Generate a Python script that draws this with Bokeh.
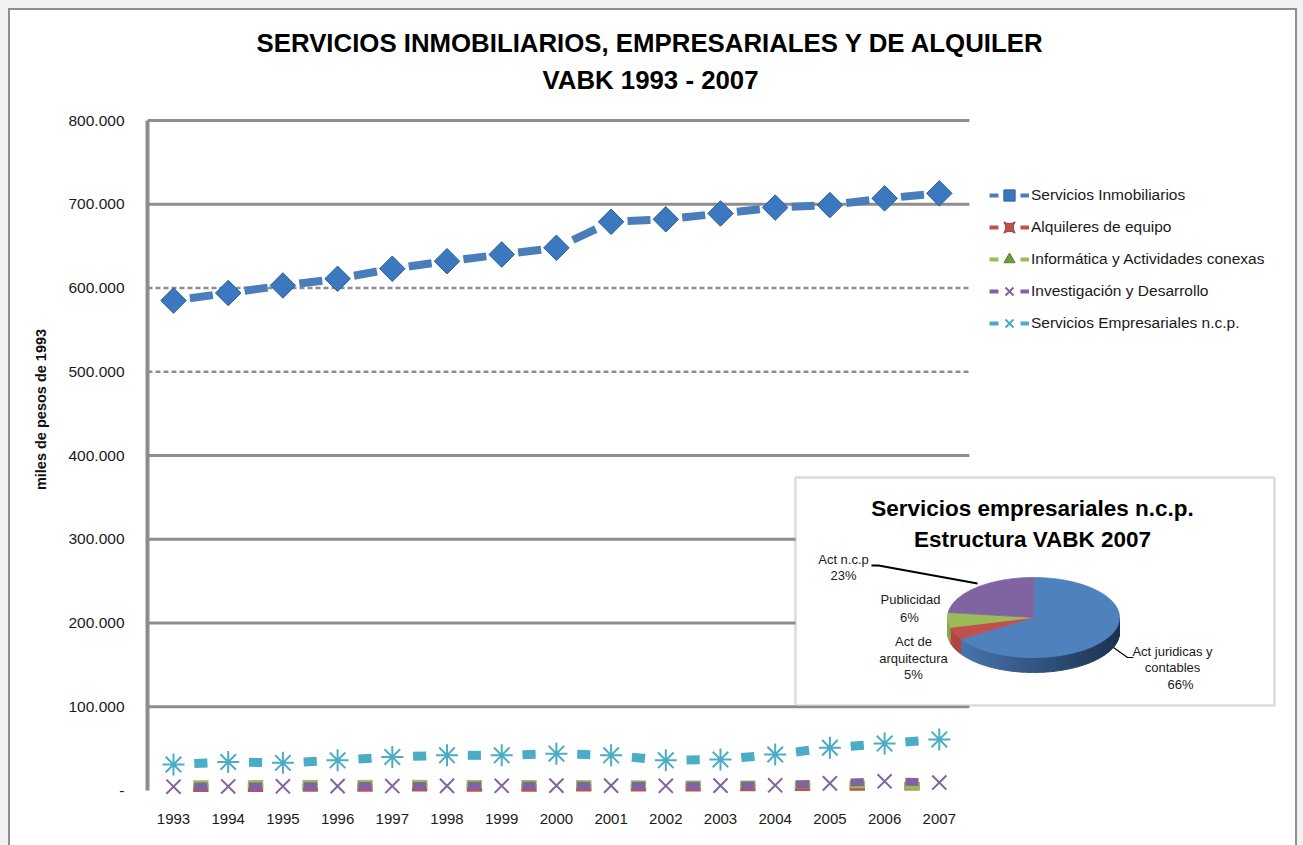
import numpy as np
from bokeh.plotting import figure
from bokeh.models import Range1d, FixedTicker, Legend, LegendItem, Label, BoxAnnotation
from bokeh.embed import file_html
from bokeh.resources import INLINE

# ---------------- data ----------------
years = list(range(1993, 2008))
x_tick_labels = [str(y) for y in years]
inmobiliarios = [585000, 594000, 603000, 611000, 623000, 632000, 640000, 648000,
                 679000, 682000, 689000, 696000, 699000, 707000, 713000]
alquileres = [3000, 3000, 3200, 3300, 3500, 3400, 3300, 3400, 3500, 3600, 3800, 4000, 4300, 4600, 5000]
informatica = [7500, 7500, 7800, 7800, 8000, 7800, 7800, 7800, 7500, 7200, 7000, 7200, 7500, 7000, 4500]
investigacion = [4500, 4800, 5000, 5200, 5300, 5500, 5600, 5800, 5800, 5600, 5800, 6200, 8500, 11000, 9500]
empresariales = [31000, 34000, 33000, 36000, 40000, 42000, 42000, 44000, 42000, 36000, 37000, 43000,
                 51000, 56000, 61000]
series_names = ["Servicios Inmobiliarios", "Alquileres de equipo", "Informática y Actividades conexas",
                "Investigación y Desarrollo", "Servicios Empresariales n.c.p."]
y_ticks = [0, 100000, 200000, 300000, 400000, 500000, 600000, 700000, 800000]
y_tick_labels = ["-", "100.000", "200.000", "300.000", "400.000", "500.000", "600.000", "700.000", "800.000"]

pie_categories = [["Act juridicas y", "contables"], ["Act de", "arquitectura"], ["Publicidad"], ["Act n.c.p"]]
pie_shares = [66, 5, 6, 23]

title_lines = ["SERVICIOS INMOBILIARIOS, EMPRESARIALES Y DE ALQUILER", "VABK 1993 - 2007"]
pie_title_lines = ["Servicios empresariales n.c.p.", "Estructura VABK 2007"]
y_axis_title = "miles de pesos de 1993"

# ---------------- layout ----------------
SANS = "'Liberation Sans', Arial, sans-serif"
W, H = 1303, 845                      # canvas == page (no body margin)
FL, FR, FT, FB = 147, 1290, 12, 806   # frame edges in page pixels
Y0PX, Y800PX = 790, 120               # page y of 0 and 800.000
k = (Y0PX - Y800PX) / 800000.0
step = 54.7                           # px per year
x_start = years[0] - (173 - FL) / step
x_end = x_start + (FR - FL) / step
y_start = -(FB - Y0PX) / k
y_end = 800000 + (Y800PX - FT) / k

p = figure(width=W, height=H, output_backend="svg", toolbar_location=None,
           x_range=Range1d(x_start, x_end), y_range=Range1d(y_start, y_end),
           min_border_left=FL, min_border_right=W - FR,
           min_border_top=FT, min_border_bottom=H - FB)
p.extra_x_ranges = {"px": Range1d(FL, FR)}
p.extra_y_ranges = {"py": Range1d(FB, FT)}
p.outline_line_color = None
p.xgrid.visible = False
p.ygrid.visible = False
p.background_fill_color = "white"
p.border_fill_color = None

# axes
ya = p.yaxis[0]
ya.ticker = FixedTicker(ticks=y_ticks)
ya.major_label_overrides = {t: l for t, l in zip(y_ticks, y_tick_labels)}
ya.bounds = (y_ticks[0], y_ticks[-1])
ya.axis_line_color = "#8c8c8c"
ya.axis_line_width = 4
ya.major_tick_line_color = None
ya.minor_tick_line_color = None
ya.major_label_text_font = SANS
ya.major_label_text_font_size = "15.5px"
ya.major_label_text_color = "#1a1a1a"
ya.major_label_standoff = 17
ya.axis_label = y_axis_title
ya.axis_label_text_font = SANS
ya.axis_label_text_font_style = "bold"
ya.axis_label_text_font_size = "14.5px"
ya.axis_label_text_color = "#111111"
ya.axis_label_standoff = 16

xa = p.xaxis[0]
xa.ticker = FixedTicker(ticks=years)
xa.major_label_overrides = {y: l for y, l in zip(years, x_tick_labels)}
xa.axis_line_color = None
xa.major_tick_line_color = None
xa.minor_tick_line_color = None
xa.major_label_text_font = SANS
xa.major_label_text_font_size = "15px"
xa.major_label_text_color = "#1a1a1a"
xa.major_label_standoff = 1

# titles
for txt, yy in zip(title_lines, [42, 79]):
    p.add_layout(Label(x=650, y=yy, x_range_name="px", y_range_name="py", text=txt,
                       text_align="center", text_baseline="middle", text_font=SANS,
                       text_font_style="bold", text_font_size="25.8px", text_color="#000000"))

# grid lines
gx0, gx1 = x_start, years[-1] + 0.55
grid_dashed = [500000, 600000]
grid_solid = [t for t in y_ticks[1:] if t not in grid_dashed]
p.segment(x0=[gx0] * len(grid_solid), x1=[gx1] * len(grid_solid), y0=grid_solid, y1=grid_solid,
          line_color="#8e8e8e", line_width=3, level="image")
p.segment(x0=[gx0] * len(grid_dashed), x1=[gx1] * len(grid_dashed), y0=grid_dashed, y1=grid_dashed,
          line_color="#8e8e8e", line_width=2.5, line_dash="5 3", level="image")


def dashes(vals, f0, f1, color, width):
    n = len(years)
    x0 = [years[i] + f0 * (years[i + 1] - years[i]) for i in range(n - 1)]
    x1 = [years[i] + f1 * (years[i + 1] - years[i]) for i in range(n - 1)]
    y0 = [vals[i] + f0 * (vals[i + 1] - vals[i]) for i in range(n - 1)]
    y1 = [vals[i] + f1 * (vals[i + 1] - vals[i]) for i in range(n - 1)]
    return p.segment(x0=x0, y0=y0, x1=x1, y1=y1, line_color=color, line_width=width, line_cap="butt")


BLUE, RED, GREEN, PURPLE, CYAN = "#4A7EBB", "#C0504D", "#9BBB59", "#8064A2", "#4BACC6"

# series (drawn in original order)
dashes(inmobiliarios, 0.30, 0.72, BLUE, 8)
p.scatter(years, inmobiliarios, marker="square", angle=np.pi / 4, size=18,
          fill_color="#3b78c0", line_color="#2a5c99", line_width=1)
dashes(alquileres, 0.36, 0.64, RED, 8)
dashes(informatica, 0.36, 0.64, GREEN, 8)
dashes(investigacion, 0.38, 0.62, PURPLE, 8)
p.scatter(years, investigacion, marker="x", size=20, line_color=PURPLE, line_width=2)
dashes(empresariales, 0.38, 0.62, CYAN, 9)
p.scatter(years, empresariales, marker="asterisk", size=22, line_color=CYAN, line_width=2)

# legend (legend-only renderers holding a single NaN point)
nan = np.array([np.nan])
leg_specs = [(BLUE, dict(marker="square", angle=np.pi / 4, fill_color="#3b78c0", line_color="#2a5c99")),
             (RED, dict(marker="square_pin", fill_color=RED, line_color="#9a3b38")),
             (GREEN, dict(marker="triangle", fill_color="#6f9a3c", line_color="#5b7f30")),
             (PURPLE, dict(marker="x", line_color=PURPLE, line_width=2)),
             (CYAN, dict(marker="x", line_color=CYAN, line_width=2))]
items = []
for name, (col, mk) in zip(series_names, leg_specs):
    lr = p.line(x=nan, y=nan, line_color=col, line_width=4, line_dash="9 22")
    sr = p.scatter(x=nan, y=nan, **mk)
    items.append(LegendItem(label=name, renderers=[lr, sr]))
legend = Legend(items=items, location=(989 - FL, FB - 337), orientation="vertical",
                glyph_width=40, glyph_height=28, spacing=4, padding=0, margin=0,
                label_standoff=2, label_text_font=SANS, label_text_font_size="15.5px",
                label_text_color="#1a1a1a", border_line_color=None, background_fill_alpha=0)
p.add_layout(legend)

# ---------------- inset pie ----------------
p.add_layout(BoxAnnotation(left=795, right=1274, top=477, bottom=705, x_range_name="px", y_range_name="py",
                           fill_color="white", fill_alpha=1, line_color="#8c8c8c", line_width=2.5,
                           level="underlay"))
for txt, yy in zip(pie_title_lines, [508, 539]):
    p.add_layout(Label(x=1032, y=yy, x_range_name="px", y_range_name="py", text=txt,
                       text_align="center", text_baseline="middle", text_font=SANS,
                       text_font_style="bold", text_font_size="22.5px", text_color="#000000"))

pcx, pcy, prx, pry, pdep = 1033, 617, 86, 40, 15
top_cols = ["#4F81BD", "#C0504D", "#9BBB59", "#8064A2"]
side_light = [(74, 122, 181), (176, 72, 69), (140, 170, 80), (110, 86, 140)]
side_dark = [(28, 50, 80), (120, 45, 43), (100, 125, 55), (80, 62, 105)]
bounds = np.cumsum([0] + pie_shares) / float(sum(pie_shares)) * 2 * np.pi


def ell(th, dy=0.0):
    return pcx + prx * np.sin(th), pcy - pry * np.cos(th) + dy


sxs, sys_, scols = [], [], []
for i in range(len(pie_shares)):
    s0, s1 = max(bounds[i], np.pi / 2), min(bounds[i + 1], 1.5 * np.pi)
    if s1 <= s0:
        continue
    nst = max(2, int((s1 - s0) / 0.04))
    edges = np.linspace(s0, s1, nst + 1)
    for j in range(nst):
        th = np.linspace(edges[j], edges[j + 1], 4)
        xt, yt = ell(th)
        xb, yb = ell(th[::-1], pdep)
        sxs.append(list(xt) + list(xb))
        sys_.append(list(yt) + list(yb))
        t = (np.sin(th.mean()) + 1) / 2
        c = tuple(int(side_light[i][m] + (side_dark[i][m] - side_light[i][m]) * t) for m in range(3))
        scols.append("#%02x%02x%02x" % c)
p.patches(sxs, sys_, fill_color=scols, line_color=scols, line_width=1,
          x_range_name="px", y_range_name="py")

txs, tys = [], []
for i in range(len(pie_shares)):
    th = np.linspace(bounds[i], bounds[i + 1], max(4, int((bounds[i + 1] - bounds[i]) / 0.03)))
    xe, ye = ell(th)
    txs.append([pcx] + list(xe))
    tys.append([pcy] + list(ye))
p.patches(txs, tys, fill_color=top_cols, line_color=top_cols, line_width=0.8,
          x_range_name="px", y_range_name="py")

# pie labels
label_pos = [(1172, [651, 667], (1180, 684)),
             (913, [641, 658], (913, 674)),
             (910, [599], (909, 617)),
             (843, [559], (843, 575))]
for lines, share, (lx, lys, (px_, py_)) in zip(pie_categories, pie_shares, label_pos):
    for txt, yy in zip(lines, lys):
        p.add_layout(Label(x=lx, y=yy, x_range_name="px", y_range_name="py", text=txt,
                           text_align="center", text_baseline="middle", text_font=SANS,
                           text_font_size="13px", text_color="#1a1a1a"))
    p.add_layout(Label(x=px_, y=py_, x_range_name="px", y_range_name="py", text="%d%%" % share,
                       text_align="center", text_baseline="middle", text_font=SANS,
                       text_font_size="13px", text_color="#1a1a1a"))

# leader lines
p.line([871, 878, 977], [565, 565, 583], line_color="black", line_width=2,
       x_range_name="px", y_range_name="py")
p.line([1113, 1127, 1133], [647, 657, 657], line_color="black", line_width=1.2,
       x_range_name="px", y_range_name="py")

html = file_html(p, INLINE, title="Servicios inmobiliarios")
page_css = ("<style>html, body { background:"
            " linear-gradient(#8f8f8f,#8f8f8f) 8px 8px / 1289px 2px no-repeat,"
            " linear-gradient(#8f8f8f,#8f8f8f) 8px 8px / 2px 2000px no-repeat,"
            " linear-gradient(#8f8f8f,#8f8f8f) 1295px 8px / 2px 2000px no-repeat,"
            " linear-gradient(#ffffff,#ffffff) 10px 10px / 1285px 2000px no-repeat,"
            " #f2f2f2; }</style>")
html = html.replace("<head>", "<head>" + page_css, 1)
open("out.html", "w").write(html)
